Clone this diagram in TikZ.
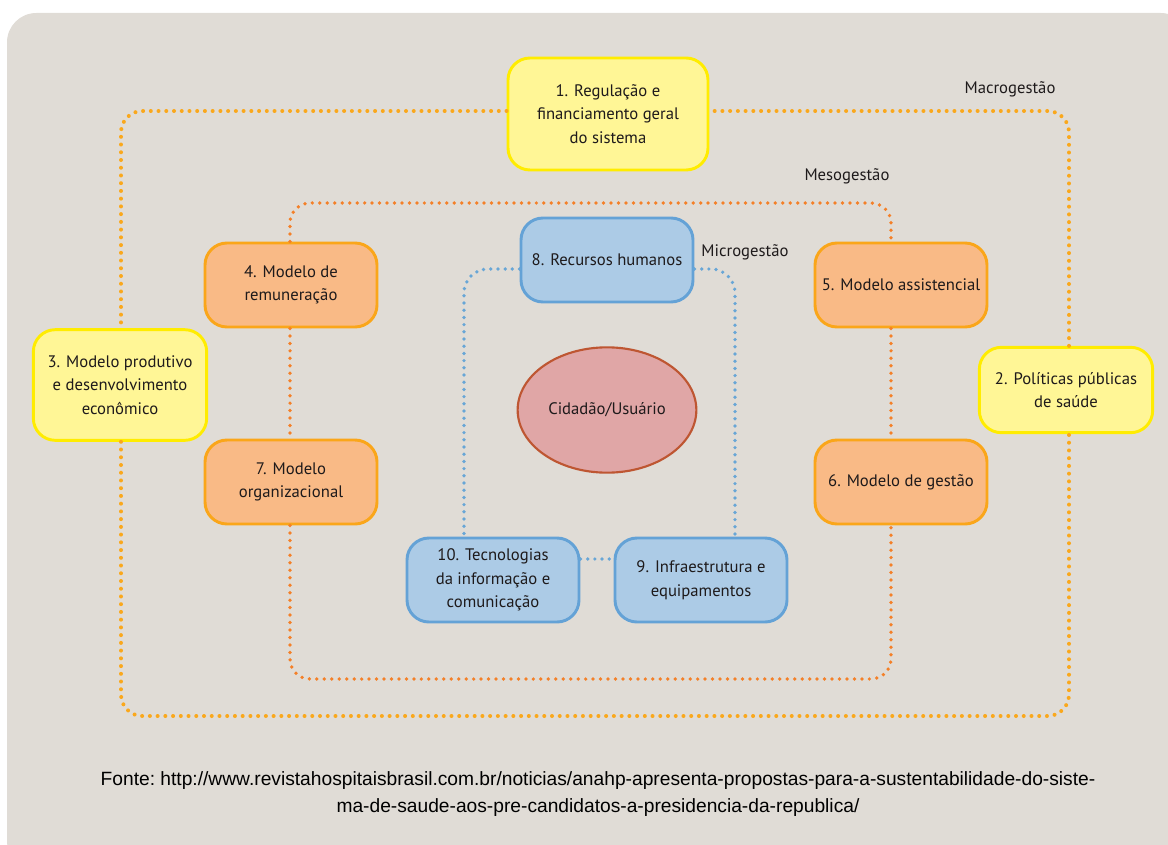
\documentclass[tikz,border=0pt]{standalone}
\usepackage{fontspec}
\setmainfont{PT Sans}
\newfontfamily\footfont{Liberation Sans}
\usetikzlibrary{shapes.geometric,calc}
\definecolor{bgc}{RGB}{224,220,214}
\definecolor{macc}{RGB}{250,168,28}
\definecolor{mesc}{RGB}{244,128,40}
\definecolor{micc}{RGB}{104,166,214}
\definecolor{yelfill}{RGB}{255,246,150}
\definecolor{yeldraw}{RGB}{255,236,0}
\definecolor{orfill}{RGB}{249,186,134}
\definecolor{ordraw}{RGB}{250,166,26}
\definecolor{blfill}{RGB}{172,203,230}
\definecolor{bldraw}{RGB}{100,162,214}
\definecolor{elfill}{RGB}{224,166,166}
\definecolor{eldraw}{RGB}{190,86,50}
\definecolor{txt}{RGB}{30,26,27}
\tikzset{
  box/.style={rectangle, rounded corners=16.5pt, line width=2.2pt, align=center,
    minimum width=129pt, minimum height=63pt, inner sep=2pt, text=txt,
    font=\fontsize{12.5}{17.6}\selectfont},
  ybox/.style={box, fill=yelfill, draw=yeldraw},
  obox/.style={box, fill=orfill, draw=ordraw},
  bbox/.style={box, fill=blfill, draw=bldraw},
  lvl/.style={text=txt, font=\fontsize{12.5}{15}\selectfont},
  dotline/.style={line width=3pt, line cap=round, dash pattern=on 0pt off 5.8pt},
  macro/.style={dotline, draw=macc, rounded corners=16pt},
  meso/.style={dotline, draw=mesc, line width=2.8pt, dash pattern=on 0pt off 5.6pt, rounded corners=15pt},
  micro/.style={dotline, draw=micc, line width=2.8pt, dash pattern=on 0pt off 5.4pt, rounded corners=18pt}
}
\begin{document}
\begin{tikzpicture}[x=0.75pt,y=-0.75pt]
\useasboundingbox (0,0) rectangle (1168,845);
\clip (0,0) rectangle (1168,845);
\fill[bgc, rounded corners=22pt] (7,13) rectangle (1190,870);

% helper coordinates for the frames
\coordinate (macNW) at (121,111);
\coordinate (macSE) at (1069,716);
\coordinate (mesNW) at (290,203);
\coordinate (mesSE) at (891,679);
\coordinate (micNW) at (464,269);
\coordinate (micSE) at (735,559);

% nodes
\node[ybox, minimum width=150pt, minimum height=84pt] (n1) at (608,114) {1. Regulação e\\financiamento geral\\do sistema};
\node[ybox, minimum width=130pt, minimum height=64pt] (n2) at (1066,390) {2. Políticas públicas\\de saúde};
\node[ybox, minimum width=130pt, minimum height=83pt] (n3) at (120,385) {3. Modelo produtivo\\e desenvolvimento\\econômico};
\node[obox] (n4) at (291,285) {4. Modelo de\\remuneração};
\node[obox] (n5) at (901,285) {5. Modelo assistencial};
\node[obox] (n6) at (901,482) {6. Modelo de gestão};
\node[obox] (n7) at (291,482) {7. Modelo\\organizacional};
\node[bbox] (n8) at (607,260) {8. Recursos humanos};
\node[bbox] (n9) at (701,580) {9. Infraestrutura e\\equipamentos};
\node[bbox] (n10) at (493,580) {10. Tecnologias\\da informação e\\comunicação};
\node[ellipse, fill=elfill, draw=eldraw, line width=1.6pt, minimum width=126pt, minimum height=94pt, text=txt, font=\fontsize{12.5}{15}\selectfont] (cu) at (607,410) {Cidadão/Usuário};

% level labels
\node[lvl] (lmac) at (1010,89) {Macrogestão};
\node[lvl] (lmes) at (847,176) {Mesogestão};
\node[lvl] (lmic) at (745,252) {Microgestão};

% frames
\draw[macro] (n1.west |- macNW) -| (n3.north -| macNW);
\draw[macro] (n3.south -| macNW) |- (macSE) -- (n2.south -| macSE);
\draw[macro] (n2.north -| macSE) |- (n1.east |- macNW);

\draw[meso] (n4.north -| mesNW) -- (mesNW) -| (n5.north -| mesSE);
\draw[meso] (n4.south -| mesNW) -- (n7.north -| mesNW);
\draw[meso] (n5.south -| mesSE) -- (n6.north -| mesSE);
\draw[meso] (n7.south -| mesNW) |- (mesSE) -- (n6.south -| mesSE);

\draw[micro] (n8.west |- micNW) -| (n10.north -| micNW);
\draw[micro] (n8.east |- micNW) -| (n9.north -| micSE);
\draw[micro] (n10.east |- micSE) -- (n9.west |- micSE);

% source
\node[align=center, text=black, font=\footfont\fontsize{14.4}{20.2}\selectfont\frenchspacing] (src) at (598,794)
  {Fonte: http://www.revistahospitaisbrasil.com.br/noticias/anahp-apresenta-propostas-para-a-sustentabilidade-do-siste-\\ma-de-saude-aos-pre-candidatos-a-presidencia-da-republica/};
\end{tikzpicture}
\end{document}
